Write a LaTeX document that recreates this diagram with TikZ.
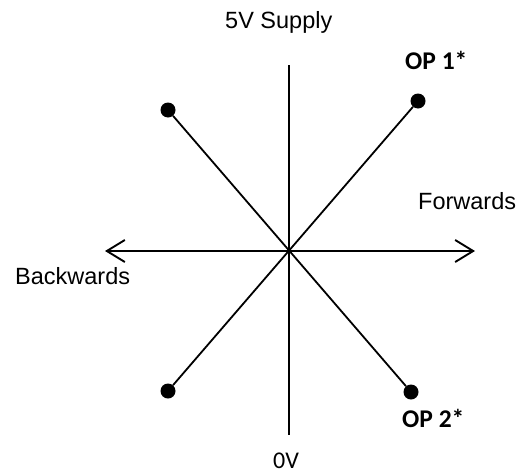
\documentclass[tikz,border=0pt]{standalone}
\usepackage{fontspec}
\setmainfont{Liberation Sans}
\newfontfamily\calib{Carlito}
\usetikzlibrary{arrows.meta}
\begin{document}
\begin{tikzpicture}[x=1pt,y=-1pt,
  axis/.style={line width=1.9pt, black},
  spoke/.style={line width=1.8pt, black},
  dot/.style={circle, fill=black, inner sep=0pt, minimum size=15pt},
  lbl/.style={anchor=base west, inner sep=0pt, font=\fontsize{23.5}{28}\selectfont},
  oplbl/.style={anchor=base west, inner sep=0pt, font=\calib\bfseries\fontsize{25.5}{30}\selectfont},
  zlbl/.style={anchor=base west, inner sep=0pt, font=\calib\fontsize{24}{28}\selectfont}]
\useasboundingbox (0,0) rectangle (522,474);
\coordinate (c) at (289,251);
\coordinate (top) at (289,65);
\coordinate (bot) at (289,435);
\coordinate (l) at (105,251);
\coordinate (r) at (475,251);
\node[dot] (tl) at (168,110) {};
\node[dot] (tr) at (418,101) {};
\node[dot] (bl) at (168,391) {};
\node[dot] (br) at (411,392) {};
\draw[axis] (top) -- (bot);
\draw[axis, {Straight Barb[length=18pt,width=22pt]}-{Straight Barb[length=18pt,width=22pt]}] (l) -- (r);
\draw[spoke] (tl) -- (br);
\draw[spoke] (tr) -- (bl);
\node[lbl] (supply) at (225,28) {5V Supply};
\node[lbl] (fwd) at (418,209) {Forwards};
\node[lbl] (back) at (15,284) {Backwards};
\node[zlbl] (zero) at (273,468) {0V};
\node[oplbl] (op1) at (405,69) {OP 1*};
\node[oplbl] (op2) at (402,427) {OP 2*};
\end{tikzpicture}
\end{document}
